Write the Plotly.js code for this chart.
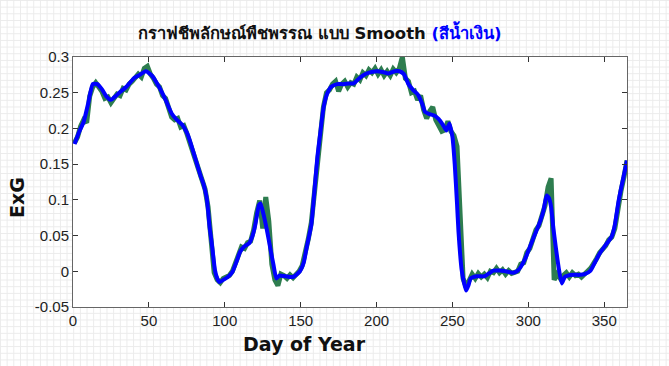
<!DOCTYPE html>
<html>
<head>
<meta charset="utf-8">
<script src="https://cdn.plot.ly/plotly-3.0.1.min.js"></script>
<style>
html, body { margin:0; padding:0; }
body {
  width:669px; height:366px; overflow:hidden;
  background-color:#ffffff;
  background-image: linear-gradient(#ebebeb 1px, transparent 1px), linear-gradient(90deg, #ebebeb 1px, transparent 1px);
  background-size: 6.67px 6.67px;
}
#chart { width:669px; height:366px; }
</style>
</head>
<body>
<div id="chart"></div>
<script>
// Raw ExG (green)
const rawDays = [1,3,5,7,9,11,13,15,17,19,21,23,25,27,29,31,33,35,37,39,41,43,45,47,49,51,53,55,57,59,
61,63,65,67,69,71,73,75,77,79,81,83,85,87,89,91,93,95,97,99,101,103,105,107,109,111,113,115,117,119,
121,123,125,127,129,131,133,135,137,139,141,143,145,147,149,151,153,155,157,159,161,163,165,167,169,171,173,175,177,179,
181,183,185,187,189,191,193,195,197,199,201,203,205,207,209,211,213,215,217,219,221,223,225,227,229,231,233,235,237,239,
241,243,245,247,249,251,253,255,257,259,261,263,265,267,269,271,273,275,277,279,281,283,285,287,289,291,293,295,297,299,
301,303,305,307,309,311,313,315,317,319,321,323,325,327,329,331,333,335,337,339,341,343,345,347,349,351,353,355,357,359,
361,363,365];
const rawExG = [0.180,0.188,0.203,0.212,0.208,0.245,0.258,0.264,0.258,0.252,0.242,0.244,0.236,0.242,0.248,0.246,0.256,0.254,0.262,0.266,
0.270,0.276,0.272,0.284,0.287,0.276,0.270,0.262,0.258,0.246,0.242,0.228,0.216,0.212,0.214,0.202,0.204,0.193,0.180,0.170,
0.152,0.142,0.128,0.115,0.090,0.045,-0.002,-0.012,-0.016,-0.010,-0.008,-0.006,0.000,0.010,0.022,0.034,0.032,0.040,0.042,0.058,
0.082,0.099,0.060,0.104,0.070,0.010,-0.012,-0.020,-0.004,-0.006,-0.010,-0.005,-0.009,-0.004,0.000,0.008,0.025,0.045,0.068,0.110,
0.160,0.196,0.230,0.250,0.254,0.262,0.266,0.252,0.262,0.266,0.258,0.264,0.262,0.272,0.268,0.278,0.274,0.282,0.278,0.284,
0.276,0.282,0.274,0.280,0.274,0.283,0.278,0.284,0.300,0.270,0.266,0.250,0.252,0.240,0.246,0.226,0.214,0.224,0.230,0.212,
0.204,0.196,0.198,0.210,0.196,0.190,0.175,0.060,-0.010,-0.022,-0.012,-0.004,-0.010,-0.003,-0.008,-0.004,-0.009,0.000,-0.002,0.004,
-0.002,0.002,-0.004,0.001,-0.003,-0.001,0.000,0.010,0.012,0.026,0.032,0.045,0.058,0.064,0.080,0.092,0.118,0.130,-0.012,-0.004,
-0.010,-0.006,-0.002,-0.008,-0.002,-0.006,-0.004,-0.008,-0.003,0.000,0.004,0.010,0.018,0.026,0.030,0.036,0.044,0.048,0.060,0.090,
0.112,0.132,0.155];

// Smoothed ExG (blue)
const smoothDays = [1,4,7,10,13,16,19,22,25,28,31,35,40,44,48,52,57,61,65,68,72,75,77,80,82,84,86,88,89,90,
91.5,93.5,95,96.5,99,102,105,108,110,113,116,118,120,122.5,123.5,125.5,128,130,132,134,136,140,145,149.5,152,154,157,159.5,161,163,
165,167,170,174,178,182,185,188,191,195,200,204,208,212,215,218,221,224,227,230,232,235,238,241,244,246,248,250,251.5,253,
254,256,257.5,259,260.5,262,266,271,274,277,281,285,290,293,295,298,301,304,308,310,312,313.5,315,316.5,318,320,322,324,326,330,
334,337,341,344,347,351,355,357,359.5,362,365];
const smoothExG = [0.178,0.195,0.209,0.235,0.262,0.262,0.255,0.245,0.240,0.245,0.251,0.258,0.270,0.275,0.280,0.274,0.257,0.240,0.221,0.213,
0.205,0.194,0.183,0.162,0.148,0.134,0.122,0.104,0.085,0.062,0.038,0.002,-0.010,-0.015,-0.012,-0.008,-0.001,0.015,0.027,0.035,
0.039,0.048,0.064,0.093,0.095,0.080,0.055,0.032,0.010,-0.010,-0.006,-0.007,-0.008,0.000,0.012,0.034,0.065,0.123,0.160,0.195,
0.228,0.246,0.258,0.262,0.262,0.263,0.263,0.269,0.274,0.278,0.280,0.279,0.277,0.280,0.280,0.276,0.262,0.254,0.248,0.235,
0.223,0.220,0.218,0.213,0.204,0.197,0.207,0.188,0.150,0.095,0.055,0.003,-0.015,-0.027,-0.020,-0.010,-0.007,-0.007,-0.003,0.001,
0.001,0.000,-0.002,0.001,0.006,0.018,0.034,0.050,0.071,0.085,0.106,0.103,0.090,0.060,0.035,0.005,-0.017,-0.008,-0.006,-0.005,
-0.005,-0.004,0.001,0.013,0.025,0.037,0.049,0.065,0.099,0.125,0.155];

const xTicks = [0,50,100,150,200,250,300,350];
const xTickText = ['0','50','100','150','200','250','300','350'];
const yTicks = [-0.05,0,0.05,0.1,0.15,0.2,0.25,0.3];
const yTickText = ['-0.05','0','0.05','0.1','0.15','0.2','0.25','0.3'];

const titleText = 'กราฟชีพลักษณ์พืชพรรณ แบบ Smooth <span style="color:#0000ff">(สีน้ำเงิน)</span>';
const xLabel = 'Day of Year';
const yLabel = 'ExG';

const traces = [
  { x: rawDays, y: rawExG, type: 'scatter', mode: 'lines',
    line: { color: '#2e7d4f', width: 5 }, hoverinfo: 'skip' },
  { x: smoothDays, y: smoothExG, type: 'scatter', mode: 'lines',
    line: { color: '#0000ff', width: 4, shape: 'spline', smoothing: 0.5 } }
];

const tickFont = { family: 'Liberation Sans, Arial, sans-serif', size: 15, color: '#222' };
const axisCommon = {
  showgrid: false, zeroline: false, showline: true, linecolor: '#666', linewidth: 1,
  mirror: 'ticks', ticks: 'inside', ticklen: 5, tickwidth: 1, tickcolor: '#333',
  tickfont: tickFont, fixedrange: true
};

const layout = {
  width: 669, height: 366,
  margin: { l: 73, r: 42, t: 57, b: 59, pad: 0 },
  paper_bgcolor: 'rgba(0,0,0,0)',
  plot_bgcolor: '#ffffff',
  showlegend: false,
  title: {
    text: '<b>' + titleText + '</b>',
    font: { family: 'Tahoma, DejaVu Sans, Noto Sans, sans-serif', size: 16.5, color: '#111' },
    xref: 'container', yref: 'container', x: 0.478, xanchor: 'center', y: 0.91, yanchor: 'middle'
  },
  xaxis: Object.assign({}, axisCommon, {
    range: [0, 365], tickmode: 'array', tickvals: xTicks, ticktext: xTickText
  }),
  yaxis: Object.assign({}, axisCommon, {
    range: [-0.05, 0.3], tickmode: 'array', tickvals: yTicks, ticktext: yTickText
  }),
  annotations: [
    { text: '<b>' + xLabel + '</b>', xref: 'paper', yref: 'paper', x: 0.417, y: -0.149,
      xanchor: 'center', yanchor: 'middle', showarrow: false,
      font: { family: 'DejaVu Sans, sans-serif', size: 19, color: '#111' } },
    { text: '<b>' + yLabel + '</b>', xref: 'paper', yref: 'paper', x: -0.0999, y: 0.439,
      xanchor: 'center', yanchor: 'middle', showarrow: false, textangle: -90,
      font: { family: 'DejaVu Sans, sans-serif', size: 19, color: '#111' } }
  ]
};

Plotly.newPlot('chart', traces, layout, { staticPlot: true, displayModeBar: false });
</script>
</body>
</html>
